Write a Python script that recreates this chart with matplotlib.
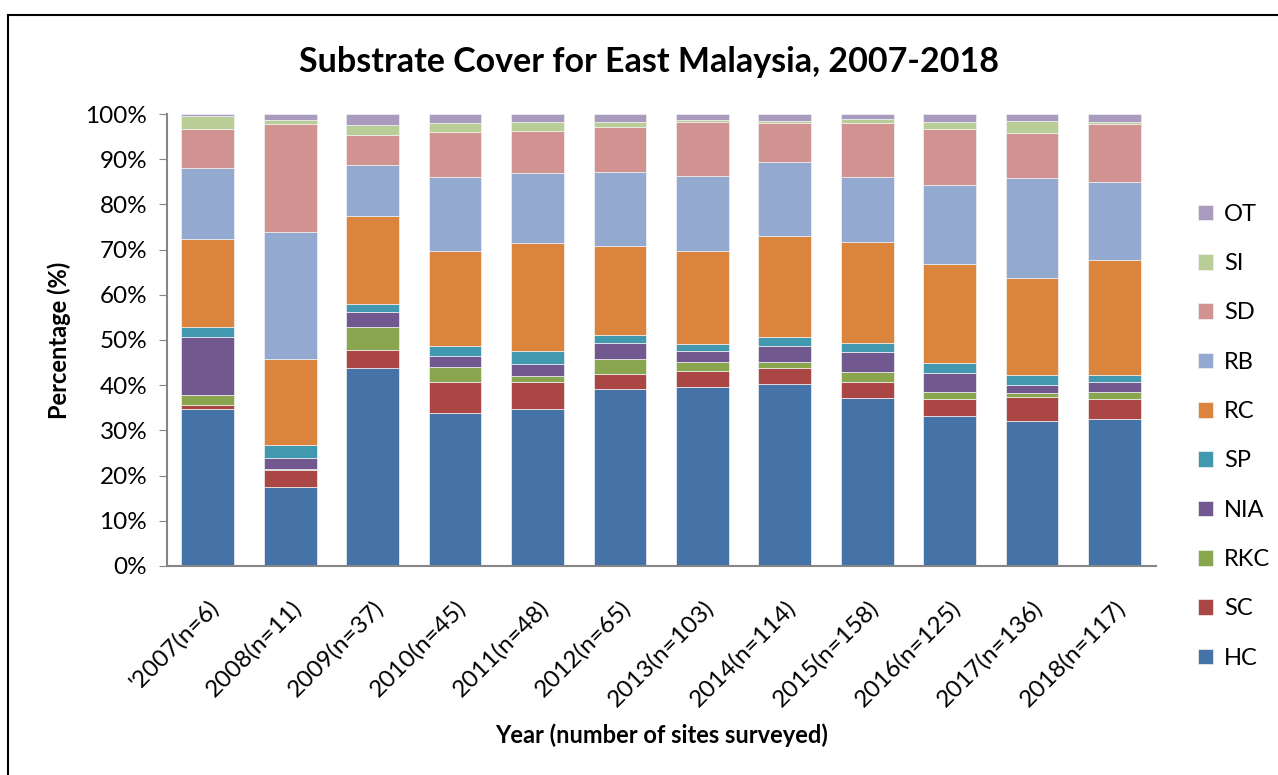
import matplotlib.pyplot as plt
from matplotlib.patches import Rectangle
import numpy as np

plt.rcParams['font.family'] = ['Lato', 'DejaVu Sans']

years = ["'2007(n=6)", "2008(n=11)", "2009(n=37)", "2010(n=45)", "2011(n=48)",
         "2012(n=65)", "2013(n=103)", "2014(n=114)", "2015(n=158)",
         "2016(n=125)", "2017(n=136)", "2018(n=117)"]

# percent cover per substrate, bottom to top
HC = [34.7, 17.5, 43.7, 33.8, 34.8, 39.1, 39.7, 40.2, 37.1, 33.1, 32.0, 32.6]
SC = [1.0, 3.8, 4.0, 7.0, 5.8, 3.4, 3.5, 3.5, 3.7, 3.8, 5.4, 4.3]
RKC = [2.1, 0.1, 5.2, 3.2, 1.5, 3.3, 2.0, 1.5, 2.1, 1.7, 0.9, 1.5]
NIA = [12.9, 2.6, 3.4, 2.5, 2.5, 3.5, 2.4, 3.5, 4.4, 4.0, 1.8, 2.2]
SP = [2.1, 2.7, 1.6, 2.1, 3.0, 1.8, 1.6, 2.0, 2.0, 2.2, 2.2, 1.7]
RC = [19.6, 19.0, 19.6, 21.1, 23.8, 19.7, 20.6, 22.2, 22.4, 22.0, 21.4, 25.3]
RB = [15.6, 28.3, 11.2, 16.3, 15.6, 16.3, 16.4, 16.4, 14.4, 17.6, 22.1, 17.4]
SD = [8.6, 23.7, 6.6, 10.1, 9.3, 10.0, 12.0, 8.8, 11.8, 12.3, 10.1, 12.7]
SI = [3.0, 1.0, 2.3, 2.0, 1.9, 1.2, 0.5, 0.4, 0.9, 1.5, 2.6, 0.5]
OT = [0.4, 1.3, 2.4, 1.9, 1.8, 1.7, 1.3, 1.5, 1.2, 1.8, 1.5, 1.8]

series = [("HC", HC, '#4572A7'), ("SC", SC, '#AA4643'), ("RKC", RKC, '#89A54E'),
          ("NIA", NIA, '#71588F'), ("SP", SP, '#4198AF'), ("RC", RC, '#DB843D'),
          ("RB", RB, '#93A9CF'), ("SD", SD, '#D19392'), ("SI", SI, '#B9CD96'),
          ("OT", OT, '#A99BBD')]

fig = plt.figure(figsize=(12.78, 7.75), dpi=100)
ax = fig.add_axes([0.1304, 0.2697, 0.7739, 0.5832])

# chart border
fig.patches.append(Rectangle((8 / 1278, -0.05), 1.1, 1 - 15 / 775 + 0.05,
                             transform=fig.transFigure, fill=False,
                             edgecolor='black', lw=1.5))

x = np.arange(len(years))
bottom = np.zeros(len(years))
handles = []
for name, vals, col in series:
    b = ax.bar(x, vals, 0.64, bottom=bottom, color=col, label=name,
               edgecolor='#f2f2f2', linewidth=0.5)
    handles.append(b)
    bottom += np.array(vals)

ax.set_xlim(-0.5, len(years) - 0.5)
ax.set_ylim(0, 100)
ax.set_yticks(np.arange(0, 101, 10))
ax.set_yticklabels(['%d%%' % v for v in range(0, 101, 10)], fontsize=17.5)
ax.set_xticks(x)
ax.set_xticklabels(years, rotation=45, ha='right', va='top',
                   rotation_mode='anchor', fontsize=17.5)
ax.tick_params(axis='x', length=0, pad=22)
ax.tick_params(axis='y', length=6, color='#868686', pad=8)

for s in ['top', 'right']:
    ax.spines[s].set_visible(False)
for s in ['left', 'bottom']:
    ax.spines[s].set_color('#868686')
    ax.spines[s].set_linewidth(1.5)

ax.set_ylabel('Percentage (%)', fontsize=17, fontweight='bold', labelpad=10)
ax.set_xlabel('Year (number of sites surveyed)', fontsize=17,
              fontweight='bold', labelpad=9)
fig.text(0.508, 0.92, 'Substrate Cover for East Malaysia, 2007-2018',
         ha='center', va='center', fontsize=24.5, fontweight='bold')

leg = fig.legend(handles[::-1], [s[0] for s in series][::-1],
                 loc='center left', bbox_to_anchor=(0.9374, 0.437),
                 frameon=False, fontsize=17, handlelength=0.65,
                 handleheight=0.65, handletextpad=0.45, labelspacing=1.2,
                 borderpad=0, borderaxespad=0)

fig.savefig('out.png', dpi=100)
